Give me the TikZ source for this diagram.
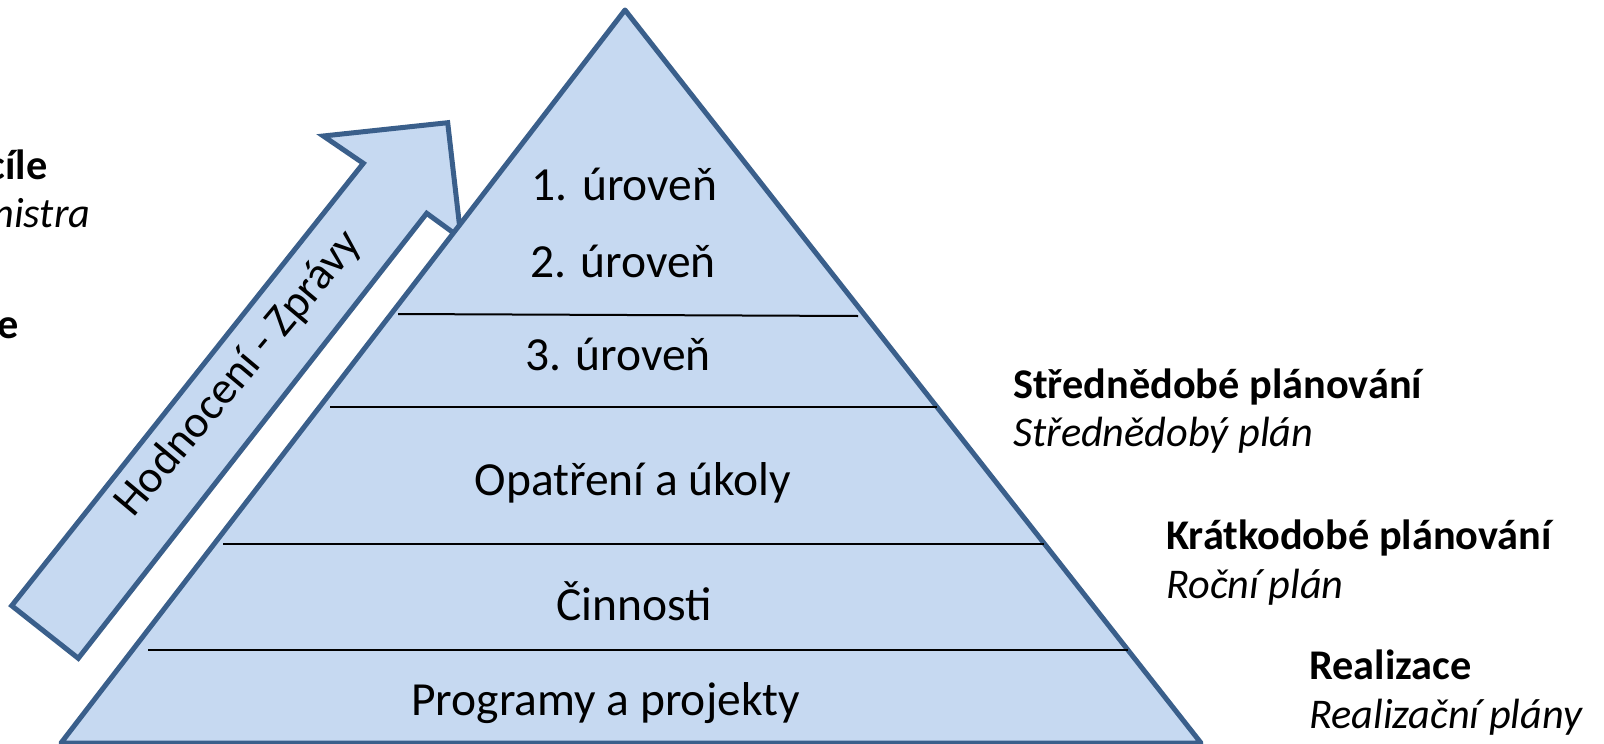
\documentclass[tikz,border=0pt]{standalone}
\usepackage{fontspec}
\setmainfont{Carlito}
\definecolor{pyrfill}{HTML}{C6D9F1}
\definecolor{pyrline}{HTML}{3A5F8B}
\tikzset{
  shapeline/.style={draw=pyrline, line width=5pt, fill=pyrfill},
  levelline/.style={draw=black, line width=2pt},
  pyrtext/.style={font=\fontsize{47.5}{57}\selectfont, anchor=base, inner sep=0pt},
  headtext/.style={font=\fontsize{42.3}{50}\selectfont\bfseries, anchor=base west, inner sep=0pt},
  subtext/.style={font=\fontsize{42.3}{50}\selectfont\itshape, anchor=base west, inner sep=0pt},
  cuthead/.style={font=\fontsize{42.3}{50}\selectfont\bfseries, anchor=base east, inner sep=0pt},
  cutsub/.style={font=\fontsize{42.3}{50}\selectfont\itshape, anchor=base east, inner sep=0pt},
}
\begin{document}
\begin{tikzpicture}[x=1pt,y=-1pt]
\useasboundingbox (0,0) rectangle (1604,744);

% arrow
\coordinate (T1) at (11.7,605.7);
\coordinate (N1) at (363.3,163.3);
\coordinate (B1) at (323.3,136);
\coordinate (P)  at (447.7,122.7);
\coordinate (B2) at (461,238.3);
\coordinate (N2) at (426.7,213.3);
\coordinate (T2) at (78.3,658.3);
\draw[shapeline, line join=miter] (T1) -- (N1) -- (B1) -- (P) -- (B2) -- (N2) -- (T2) -- cycle;
\node[rotate=50, font=\fontsize{45.5}{55}\selectfont, inner sep=0pt] (arrowtext) at (239,374) {Hodnocení - Zprávy};

% pyramid
\coordinate (apex) at (625,10);
\coordinate (bl) at (61,743);
\coordinate (br) at (1201,743);
\draw[shapeline, line join=round] (apex) -- (bl) -- (br) -- cycle;

\coordinate (L1a) at (398,314);  \coordinate (L1b) at (858,316);
\coordinate (L2a) at (330,406.5); \coordinate (L2b) at (937,406.5);
\coordinate (L3a) at (223,544);  \coordinate (L3b) at (1044,544);
\coordinate (L4a) at (148,650);  \coordinate (L4b) at (1128,650);
\draw[levelline] (L1a) -- (L1b);
\draw[levelline] (L2a) -- (L2b);
\draw[levelline] (L3a) -- (L3b);
\draw[levelline] (L4a) -- (L4b);

\node[pyrtext] (u1) at (624.5,200) {1. úroveň};
\node[pyrtext] (u2) at (623,277.5) {2. úroveň};
\node[pyrtext] (u3) at (618,370.5) {3. úroveň};
\node[pyrtext] (opat) at (633,495) {Opatření a úkoly};
\node[pyrtext] (cinn) at (634.5,620) {Činnosti};
\node[pyrtext] (prog) at (605.5,715) {Programy a projekty};

% right labels
\node[headtext] (sp) at (1013,398) {Střednědobé plánování};
\node[subtext]  (spp) at (1013,446) {Střednědobý plán};
\node[headtext] (kp) at (1166,549) {Krátkodobé plánování};
\node[subtext]  (kpp) at (1166,598) {Roční plán};
\node[headtext] (re) at (1309,679) {Realizace};
\node[subtext]  (rep) at (1309,728) {Realizační plány};

% cut-off left labels
\node[cuthead] (lc) at (47.5,179) {cíle};
\node[cutsub]  (ln) at (90.5,227.5) {nistra};
\node[cuthead] (le) at (18.5,338.5) {e};
\end{tikzpicture}
\end{document}
